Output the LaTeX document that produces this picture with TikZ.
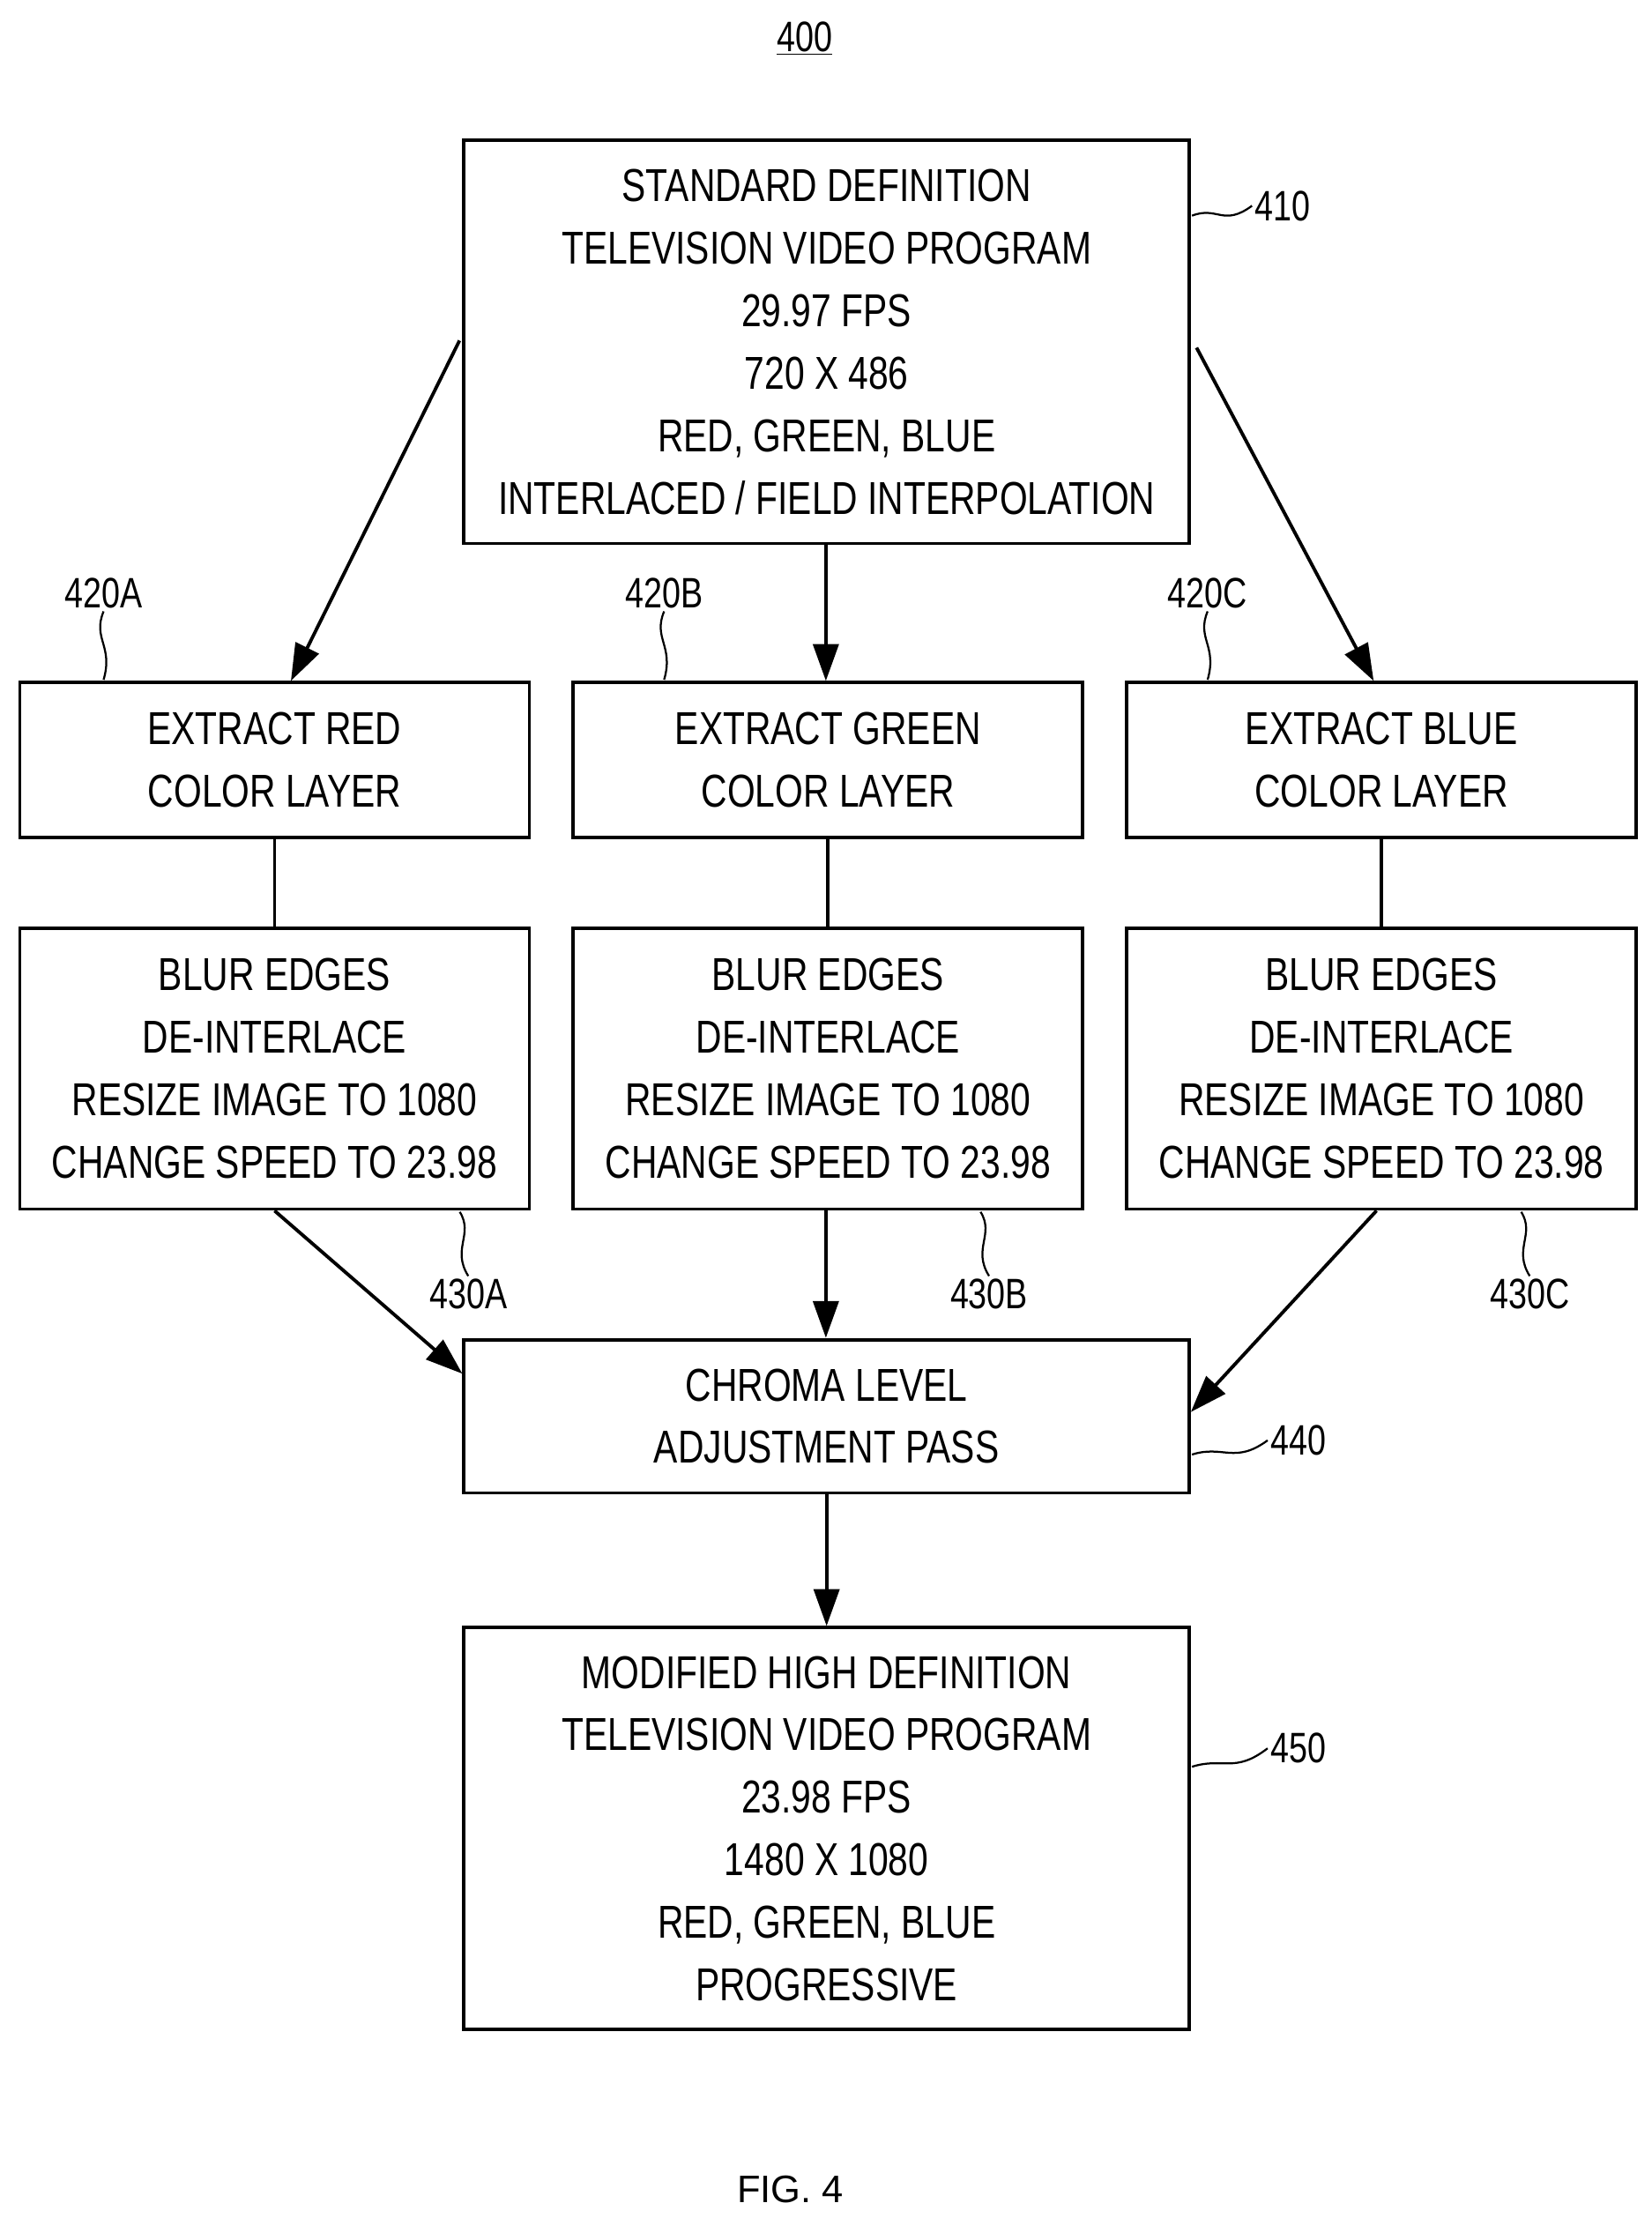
\documentclass[tikz,border=0pt]{standalone}
\usepackage{fontspec}
\setmainfont{Liberation Sans}[FakeStretch=0.78]
\usetikzlibrary{arrows.meta}
\tikzset{every picture/.style={line width=2.4pt}}
\tikzset{
  box/.style={draw, align=center, inner sep=0pt, font=\fontsize{32.5}{44}\selectfont},
  lbl/.style={font=\fontsize{30}{32}\selectfont, inner sep=1pt},
  arr/.style={-{Triangle[length=26pt,width=18pt]}},
  squig/.style={line width=1.4pt}
}
\begin{document}
\begin{tikzpicture}[x=1pt,y=1pt,yscale=-1,xscale=1]
  \useasboundingbox (0,0) rectangle (1164,1563);

  % title
  \node[lbl] (fig) at (567,27) {\underline{400}};
  \node[font=\fontsize{27}{30}\selectfont\addfontfeatures{FakeStretch=1}] (cap) at (557,1543) {FIG. 4};

  % boxes
  \node[box, minimum width=511pt, minimum height=284pt] (sd) at (582.5,241) {STANDARD DEFINITION\\TELEVISION VIDEO PROGRAM\\29.97 FPS\\720 X 486\\RED, GREEN, BLUE\\INTERLACED / FIELD INTERPOLATION};
  \node[box, minimum width=359pt, minimum height=109pt] (exr) at (193.5,535.5) {EXTRACT RED\\COLOR LAYER};
  \node[box, minimum width=359pt, minimum height=109pt] (exg) at (583.5,535.5) {EXTRACT GREEN\\COLOR LAYER};
  \node[box, minimum width=359pt, minimum height=109pt] (exb) at (973.5,535.5) {EXTRACT BLUE\\COLOR LAYER};
  \node[box, minimum width=359pt, minimum height=198pt] (blr) at (193.5,753) {BLUR EDGES\\DE-INTERLACE\\RESIZE IMAGE TO 1080\\CHANGE SPEED TO 23.98};
  \node[box, minimum width=359pt, minimum height=198pt] (blg) at (583.5,753) {BLUR EDGES\\DE-INTERLACE\\RESIZE IMAGE TO 1080\\CHANGE SPEED TO 23.98};
  \node[box, minimum width=359pt, minimum height=198pt] (blb) at (973.5,753) {BLUR EDGES\\DE-INTERLACE\\RESIZE IMAGE TO 1080\\CHANGE SPEED TO 23.98};
  \node[box, minimum width=511pt, minimum height=108pt] (chr) at (582.5,998) {CHROMA LEVEL\\ADJUSTMENT PASS};
  \node[box, minimum width=511pt, minimum height=283pt] (hd) at (582.5,1288.5) {MODIFIED HIGH DEFINITION\\TELEVISION VIDEO PROGRAM\\23.98 FPS\\1480 X 1080\\RED, GREEN, BLUE\\PROGRESSIVE};

  % connectors
  \draw[arr] (sd.west |- 0,240) ++(-2,0) -- (exr.north -| 205,0);
  \draw[arr] (sd.south -| 582,0) -- (exg.north -| 582,0);
  \draw[arr] (sd.east |- 0,245) ++(4,0) -- (exb.north -| 968,0);
  \draw (exr) -- (blr);
  \draw (exg) -- (blg);
  \draw (exb) -- (blb);
  \draw[arr] (blr.south) -- (chr.west |- 0,968);
  \draw[arr] (blg.south -| 582,0) -- (chr.north -| 582,0);
  \draw[arr] (blb.south -| 970,0) -- (chr.east |- 0,995);
  \draw[arr] (chr) -- (hd);

  % reference labels
  \node[lbl] (l410) at (904,145) {410};
  \draw[squig] (840,152) .. controls (858,145) and (862,160) .. (l410.west);
  \node[lbl] (l420a) at (73,418) {420A};
  \draw[squig] (l420a.south) .. controls (65,450) and (80,455) .. (73,479);
  \node[lbl] (l420b) at (468,418) {420B};
  \draw[squig] (l420b.south) .. controls (460,450) and (475,455) .. (468,479);
  \node[lbl] (l420c) at (851,418) {420C};
  \draw[squig] (l420c.south) .. controls (843,450) and (858,455) .. (851,479);
  \node[lbl] (l430a) at (330,912) {430A};
  \draw[squig] (324,854) .. controls (334,870) and (318,880) .. (l430a.north);
  \node[lbl] (l430b) at (697,912) {430B};
  \draw[squig] (691,854) .. controls (701,870) and (685,880) .. (l430b.north);
  \node[lbl] (l430c) at (1078,912) {430C};
  \draw[squig] (1072,854) .. controls (1082,870) and (1066,880) .. (l430c.north);
  \node[lbl] (l440) at (915,1015) {440};
  \draw[squig] (840,1025) .. controls (862,1018) and (870,1032) .. (l440.west);
  \node[lbl] (l450) at (915,1232) {450};
  \draw[squig] (840,1245) .. controls (862,1238) and (870,1250) .. (l450.west);
\end{tikzpicture}
\end{document}
